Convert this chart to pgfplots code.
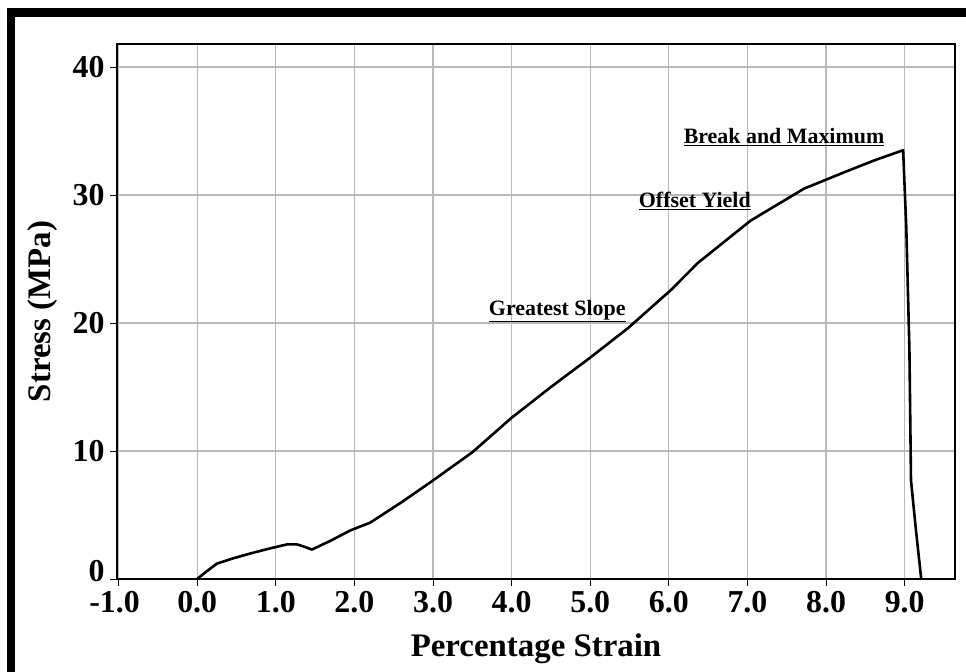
\documentclass[border=0pt]{standalone}
\usepackage{pgfplots}
\pgfplotsset{compat=1.18}
\usepackage{fontspec}
\setmainfont{Liberation Serif}
\begin{document}
\begin{tikzpicture}[x=1bp,y=1bp]
\useasboundingbox (0,0) rectangle (966,672);
\fill[white] (0,0) rectangle (966,672);
\fill[black] (7,0) rectangle (15,664);
\fill[black] (7,655) rectangle (966,664);
\begin{axis}[
  at={(117bp,93bp)}, anchor=south west,
  scale only axis, width=838bp, height=535bp,
  xmin=-1.02, xmax=9.64, ymin=0, ymax=41.8,
  xtick={-1,0,1,2,3,4,5,6,7,8,9},
  xticklabels={\hspace*{-8bp}-1.0,0.0,1.0,2.0,3.0,4.0,5.0,6.0,7.0,8.0,9.0},
  ytick={0,10,20,30,40},
  yticklabels={\raisebox{-3bp}[0pt][0pt]{0},10,20,30,40},
  tick pos=left,
  tick align=outside, major tick length=7bp,
  tick style={black, line width=0.8bp},
  grid=major,
  major grid style={gray!55, line width=1.2bp},
  axis line style={black, line width=2.6bp},
  ticklabel style={font=\fontsize{32}{32}\selectfont\bfseries},
  xticklabel style={yshift=-2bp},
  yticklabel style={xshift=-2bp},
  xlabel={Percentage Strain},
  ylabel={Stress (MPa)},
  label style={font=\fontsize{33}{33}\selectfont\bfseries},
  xlabel style={yshift=-14bp},
  ylabel style={yshift=8bp},
  clip=false,
]
\addplot[black, line width=2.6bp, line join=round] coordinates {
(0,0) (0.1,0.5) (0.25,1.2) (0.45,1.6) (0.68,2.0) (0.9,2.35) (1.14,2.7)
(1.27,2.7) (1.35,2.55) (1.46,2.3) (1.7,3.0) (1.95,3.8) (2.2,4.4)
(2.6,6.0) (3.0,7.7) (3.5,9.9) (4.0,12.6) (4.5,15.0) (5.0,17.3)
(5.48,19.6) (6.03,22.6) (6.37,24.7) (7.04,28.0) (7.72,30.5) (8.2,31.7)
(8.61,32.7) (8.98,33.5) (9.02,27.5) (9.06,17.9) (9.08,7.7) (9.14,4.0) (9.21,0)
};
\node[anchor=base, font=\fontsize{22}{22}\selectfont\bfseries] at (axis cs:7.465,34.06) {\underline{Break and Maximum}};
\node[anchor=base, font=\fontsize{22}{22}\selectfont\bfseries] at (axis cs:6.33,29.0) {\underline{Offset Yield}};
\node[anchor=base, font=\fontsize{22}{22}\selectfont\bfseries] at (axis cs:4.58,20.6) {\underline{Greatest Slope}};
\end{axis}
\end{tikzpicture}
\end{document}
